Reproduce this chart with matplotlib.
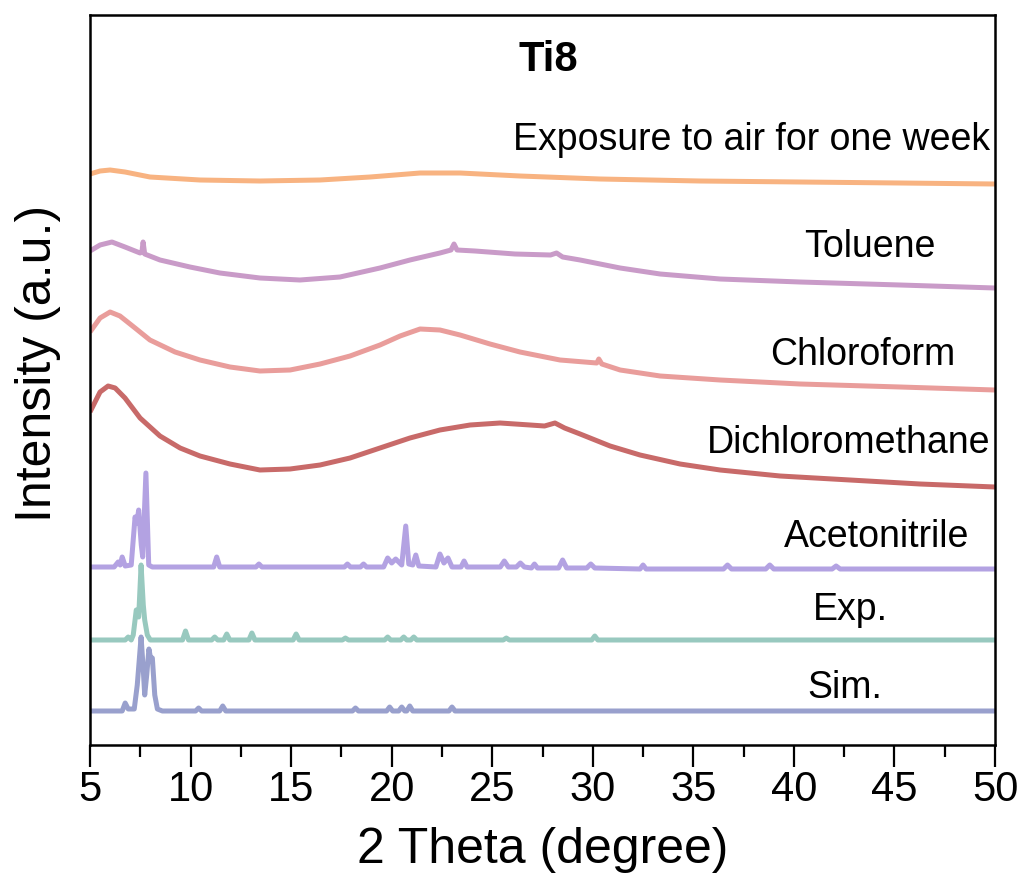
import matplotlib
matplotlib.use("Agg")
import matplotlib.pyplot as plt
from matplotlib.ticker import MultipleLocator

plt.rcParams['font.family'] = ['Liberation Sans', 'DejaVu Sans']

# Powder XRD patterns of Ti8, stacked (2theta in degrees, intensity in a.u.)
air_week = [(5.0, 571), (5.5, 574), (6.0, 575), (6.74, 573), (7.98, 568), (10.47, 565),
            (13.45, 564), (16.44, 565), (18.93, 568), (21.41, 572), (23.4, 572),
            (26.38, 569), (30.36, 566), (35.33, 564), (40.31, 563), (45.28, 562), (50.0, 561)]

toluene = [(5.0, 494), (5.5, 500), (6.09, 503), (6.74, 498), (7.49, 492), (7.58, 493),
           (7.64, 503), (7.72, 491), (8.48, 485), (9.97, 478), (11.46, 472), (13.45, 467),
           (15.44, 465), (17.43, 468), (19.42, 477), (20.91, 485), (22.4, 492), (22.95, 495),
           (23.1, 501), (23.25, 495), (24.14, 494), (26.13, 491), (27.9, 490), (28.2, 492),
           (28.5, 488), (29.37, 485), (31.36, 477), (33.35, 471), (36.33, 466), (40.31, 463),
           (45.28, 460), (50.0, 457)]

chloroform = [(5.0, 413), (5.5, 427), (6.0, 433), (6.49, 429), (7.24, 417), (7.98, 405),
              (9.23, 393), (10.47, 385), (11.96, 378), (13.45, 374), (14.95, 375),
              (16.44, 381), (17.93, 389), (19.42, 400), (20.42, 409), (21.41, 416),
              (22.4, 415), (23.4, 410), (24.89, 401), (26.38, 393), (28.37, 385), (30.2, 382),
              (30.3, 386), (30.45, 381), (31.36, 375), (33.35, 369), (36.33, 365),
              (40.31, 361), (45.28, 358), (50.0, 355)]

dichloromethane = [(5.0, 333), (5.5, 353), (5.9, 359), (6.25, 357), (6.74, 347), (7.49, 327),
                   (8.48, 309), (9.48, 297), (10.47, 289), (11.96, 281), (13.45, 275),
                   (14.95, 276), (16.44, 280), (17.93, 287), (19.42, 297), (20.91, 307),
                   (22.4, 315), (23.9, 320), (25.39, 322), (26.88, 320), (27.6, 319),
                   (28.12, 322), (28.6, 317), (29.37, 311), (30.86, 299), (32.35, 290),
                   (34.34, 281), (36.33, 275), (39.31, 269), (42.79, 265), (46.27, 261),
                   (50.0, 258)]

acetonitrile = [(5.0, 178), (6.2, 178), (6.4, 183), (6.5, 180), (6.6, 188), (6.75, 179),
                (7.05, 180), (7.24, 228), (7.33, 222), (7.42, 235), (7.55, 200), (7.62, 188),
                (7.78, 272), (7.92, 180), (8.1, 178), (11.15, 178), (11.3, 188), (11.45, 178),
                (13.25, 178), (13.4, 181), (13.55, 178), (17.65, 178), (17.8, 181), (17.95, 178),
                (18.45, 178), (18.6, 181), (18.75, 178), (19.6, 178), (19.8, 187), (20.0, 182),
                (20.2, 186), (20.5, 180), (20.7, 219), (20.85, 181), (21.05, 180), (21.2, 190),
                (21.35, 179), (22.2, 178), (22.4, 191), (22.6, 182), (22.8, 187), (23.0, 178),
                (23.45, 178), (23.6, 184), (23.75, 178), (25.4, 178), (25.6, 184), (25.8, 178),
                (26.2, 178), (26.4, 182), (26.6, 178), (26.95, 177), (27.1, 181), (27.25, 177),
                (28.3, 177), (28.5, 185), (28.7, 177), (29.7, 177), (29.9, 181), (30.1, 177),
                (32.35, 176), (32.5, 180), (32.65, 176), (36.5, 176), (36.7, 180), (36.9, 176),
                (38.6, 176), (38.8, 180), (39.0, 176), (41.9, 176), (42.1, 179), (42.3, 176),
                (50.0, 176)]

experimental = [(5.0, 105), (6.75, 105), (6.9, 108), (7.05, 105), (7.15, 110), (7.3, 135),
                (7.42, 128), (7.54, 180), (7.65, 140), (7.72, 125), (7.85, 110), (8.0, 105),
                (9.6, 105), (9.75, 114), (9.9, 105), (11.05, 105), (11.2, 108), (11.35, 105),
                (11.65, 105), (11.8, 111), (11.95, 105), (12.9, 105), (13.05, 112), (13.2, 105),
                (15.1, 105), (15.25, 111), (15.4, 105), (17.55, 105), (17.7, 107), (17.85, 105),
                (19.65, 105), (19.8, 108), (19.95, 105), (20.45, 105), (20.6, 108), (20.75, 105),
                (20.95, 105), (21.1, 108), (21.25, 105), (25.55, 105), (25.7, 107), (25.85, 105),
                (29.95, 105), (30.1, 109), (30.25, 105), (50.0, 105)]

simulated = [(5.0, 34), (6.6, 34), (6.75, 42), (6.9, 36), (7.2, 36), (7.35, 60), (7.54, 108),
             (7.65, 75), (7.72, 50), (7.82, 70), (7.93, 96), (8.0, 88), (8.1, 87), (8.22, 50),
             (8.35, 36), (8.6, 34), (10.25, 34), (10.4, 37), (10.55, 34), (11.45, 34),
             (11.6, 39), (11.75, 34), (18.05, 34), (18.2, 37), (18.35, 34), (19.75, 34),
             (19.9, 38), (20.05, 34), (20.35, 34), (20.5, 38), (20.65, 34), (20.75, 34),
             (20.9, 39), (21.05, 34), (22.85, 34), (23.0, 38), (23.15, 34), (50.0, 34)]

patterns = [air_week, toluene, chloroform, dichloromethane, acetonitrile, experimental, simulated]
names = ["Exposure to air for one week", "Toluene", "Chloroform", "Dichloromethane",
         "Acetonitrile", "Exp.", "Sim."]
colors = ["#F8B381", "#C99BC8", "#E99D9B", "#C86A69", "#B3A2E2", "#98C9BF", "#99A0CD"]

# label anchor (right edge, vertical centre) in axes fraction
label_pos = [(0.9945, 0.829), (0.934, 0.682), (0.956, 0.534), (0.9945, 0.414),
             (0.972, 0.285), (0.882, 0.185), (0.875, 0.078)]

fig = plt.figure(figsize=(10.24, 8.96), dpi=100)
ax = fig.add_axes([90 / 1024, 151 / 896, 905 / 1024, 730 / 896])

for pat, col in zip(patterns, colors):
    xs = [p[0] for p in pat]
    ys = [p[1] for p in pat]
    ax.plot(xs, ys, color=col, lw=3.6, solid_joinstyle='round', solid_capstyle='butt')

for name, (lx, ly) in zip(names, label_pos):
    ax.text(lx, ly, name, transform=ax.transAxes, ha='right', va='center', fontsize=27)

ax.text(0.506, 0.938, "Ti8", transform=ax.transAxes, ha='center', va='center',
        fontsize=30, fontweight='bold')

ax.set_xlim(5, 50)
ax.set_ylim(0, 730)
ax.xaxis.set_major_locator(MultipleLocator(5))
ax.xaxis.set_minor_locator(MultipleLocator(2.5))
ax.tick_params(axis='x', which='major', direction='out', length=16, width=1.6,
               labelsize=30, pad=2)
ax.tick_params(axis='x', which='minor', direction='out', length=8.5, width=1.6)
ax.set_yticks([])
for sp in ax.spines.values():
    sp.set_linewidth(1.8)

ax.set_xlabel("2 Theta (degree)", fontsize=36)
ax.xaxis.set_label_coords(0.5, -0.144)
ax.xaxis.label.set_va('center')
ax.set_ylabel("Intensity (a.u.)", fontsize=36)
ax.yaxis.set_label_coords(-0.0575, 0.523)
ax.yaxis.label.set_va('center')

fig.savefig("out.png", dpi=100)
